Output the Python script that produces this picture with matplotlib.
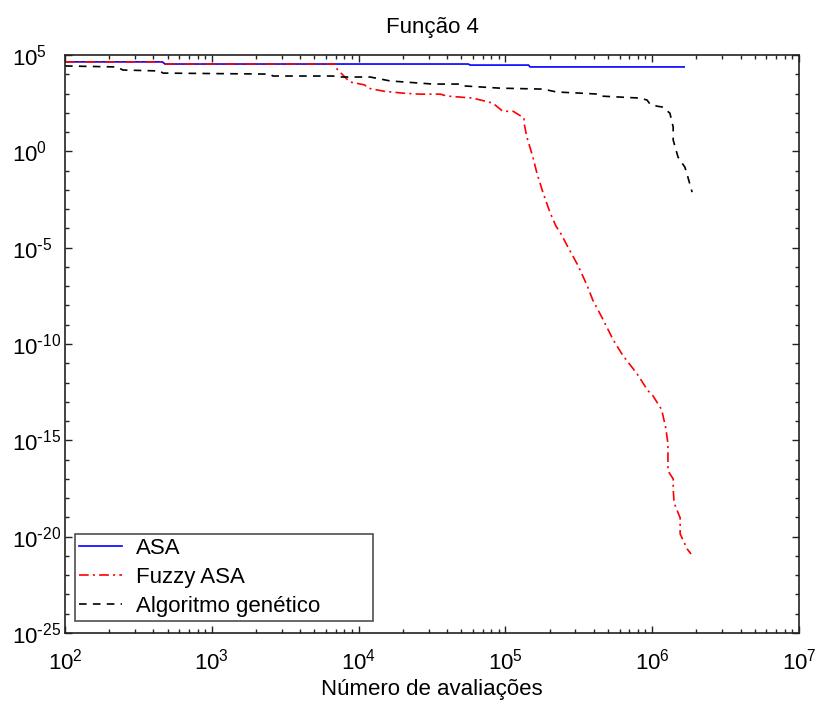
import numpy as np
import matplotlib
matplotlib.use('Agg')
import matplotlib.pyplot as plt
from matplotlib.ticker import FixedLocator, LogLocator, FuncFormatter, NullFormatter

plt.rcParams['font.family'] = ['Liberation Sans', 'DejaVu Sans']
plt.rcParams['lines.scale_dashes'] = False
plt.rcParams['axes.unicode_minus'] = False

# melhor valor encontrado x numero de avaliacoes
asa_x = [100, 460, 480, 5.6e4, 5.74e4, 1.44e5, 1.47e5, 1.65e6]
asa_y = [4.4e4, 4.4e4, 3.4e4, 3.4e4, 3.0e4, 3.0e4, 2.4e4, 2.4e4]

fuzzy_x = [100, 460, 480, 6.9e3, 6.9e3, 8.7e3, 1.1e4, 1.16e4, 1.5e4, 2.0e4,
           2.6e4, 3.6e4, 4.0e4, 6.0e4, 8.2e4, 9.6e4, 1.13e5, 1.34e5, 1.34e5, 1.40e5,
           1.54e5, 1.64e5, 1.80e5, 2.01e5, 2.21e5, 2.36e5, 2.67e5, 3.12e5, 3.60e5, 3.95e5,
           4.62e5, 5.41e5, 6.32e5, 7.87e5, 9.35e5, 1.01e6, 1.16e6, 1.24e6, 1.28e6, 1.28e6,
           1.39e6, 1.39e6, 1.41e6, 1.55e6, 1.55e6, 1.73e6, 1.84e6]
fuzzy_y = [4.4e4, 4.4e4, 3.4e4, 3.4e4, 2.4e4, 4.0e3, 2.8e3, 1.9e3, 1.3e3, 1.05e3,
           9.3e2, 9.3e2, 7.4e2, 5.8e2, 3.2e2, 1.2e2, 1.2e2, 53, 29, 5.5,
           0.5, 7.3e-2, 7.5e-3, 6.9e-4, 1.3e-4, 6.3e-5, 1.05e-5, 1.2e-6, 1.1e-7, 1.8e-8,
           1.9e-9, 1.7e-10, 2.5e-11, 2.9e-12, 3.8e-13, 2.1e-13, 3.9e-14, 4.0e-15, 6.6e-16, 2.6e-17,
           1.0e-17, 3.0e-18, 5.6e-19, 9.5e-20, 1.4e-20, 2.3e-21, 1.26e-21]

ga_x = [100, 226, 248, 444, 465, 2.49e3, 2.61e3, 6.7e3, 7.24e3, 1.2e4,
        1.64e4, 3.21e4, 4.91e4, 5.14e4, 9.2e4, 1.80e5, 2.24e5, 3.22e5, 4.21e5, 4.41e5,
        8.26e5, 9.22e5, 9.67e5, 1.08e6, 1.17e6, 1.32e6, 1.39e6, 1.39e6, 1.50e6, 1.67e6,
        1.75e6, 1.87e6]
ga_y = [2.7e4, 2.4e4, 1.66e4, 1.48e4, 1.15e4, 1.02e4, 8.1e3, 8.1e3, 7.2e3, 7.2e3,
        4.5e3, 3.1e3, 3.1e3, 2.5e3, 1.9e3, 1.7e3, 1.2e3, 1.05e3, 9.4e2, 7.4e2,
        5.8e2, 4.6e2, 2.8e2, 2.2e2, 2.0e2, 96, 18, 3.8, 0.5, 0.15,
        4.6e-2, 7.6e-3]


def pow10(v, pos):
    # expoente com hifen simples, como no rotulo original
    e = round(np.log10(v))
    s = ('\\text{-}%d' % -e) if e < 0 else '%d' % e
    return r'$\mathregular{10^{%s}}$' % s


fig = plt.figure(figsize=(8.19, 7.04), dpi=100)
ax = fig.add_axes([65 / 819, 1 - 633 / 704, 734 / 819, 578 / 704])

ax.plot(asa_x, asa_y, color='#0000ff', lw=1.2, label='ASA')
ax.plot(fuzzy_x, fuzzy_y, color='#ff0000', lw=1.2, dashes=(7, 3, 1.5, 3), label='Fuzzy ASA')
ax.plot(ga_x, ga_y, color='black', lw=1.2, dashes=(5.5, 4.5), label='Algoritmo genético')

ax.set_xscale('log')
ax.set_yscale('log')
ax.set_xlim(1e2, 1e7)
ax.set_ylim(1e-25, 1e5)

ax.yaxis.set_major_locator(FixedLocator([10.0 ** k for k in range(-25, 6, 5)]))
ax.yaxis.set_minor_locator(FixedLocator([10.0 ** k for k in range(-25, 6)]))
ax.xaxis.set_major_locator(LogLocator(base=10))
ax.xaxis.set_minor_locator(LogLocator(base=10, subs=np.arange(2, 10)))

ax.xaxis.set_major_formatter(FuncFormatter(pow10))
ax.yaxis.set_major_formatter(FuncFormatter(pow10))
ax.xaxis.set_minor_formatter(NullFormatter())
ax.yaxis.set_minor_formatter(NullFormatter())

ax.tick_params(which='both', direction='in', top=True, right=True, width=1.0, color='#222222')
ax.tick_params(which='major', length=5)
ax.tick_params(which='minor', length=3.2)
ax.tick_params(axis='x', which='major', pad=11, labelsize=16)
ax.tick_params(axis='y', which='major', pad=38, labelsize=16)
for lab in ax.get_yticklabels():
    lab.set_horizontalalignment('left')

for sp in ax.spines.values():
    sp.set_linewidth(1.2)
    sp.set_color('#222222')

ax.set_title('Função 4', fontsize=16, pad=16)
ax.set_xlabel('Número de avaliações', fontsize=16)
ax.xaxis.set_label_coords(0.5, -0.080)

leg = ax.legend(loc='lower left', bbox_to_anchor=(10 / 734, 12 / 578, 298 / 734, 87 / 578),
                mode='expand', borderaxespad=0, fontsize=16, fancybox=False,
                frameon=True, edgecolor='#222222', handlelength=1.9, handletextpad=0.65,
                labelspacing=0.35, borderpad=0.2)
leg.get_frame().set_linewidth(1.2)

fig.savefig('out.png', dpi=100, facecolor='white')
